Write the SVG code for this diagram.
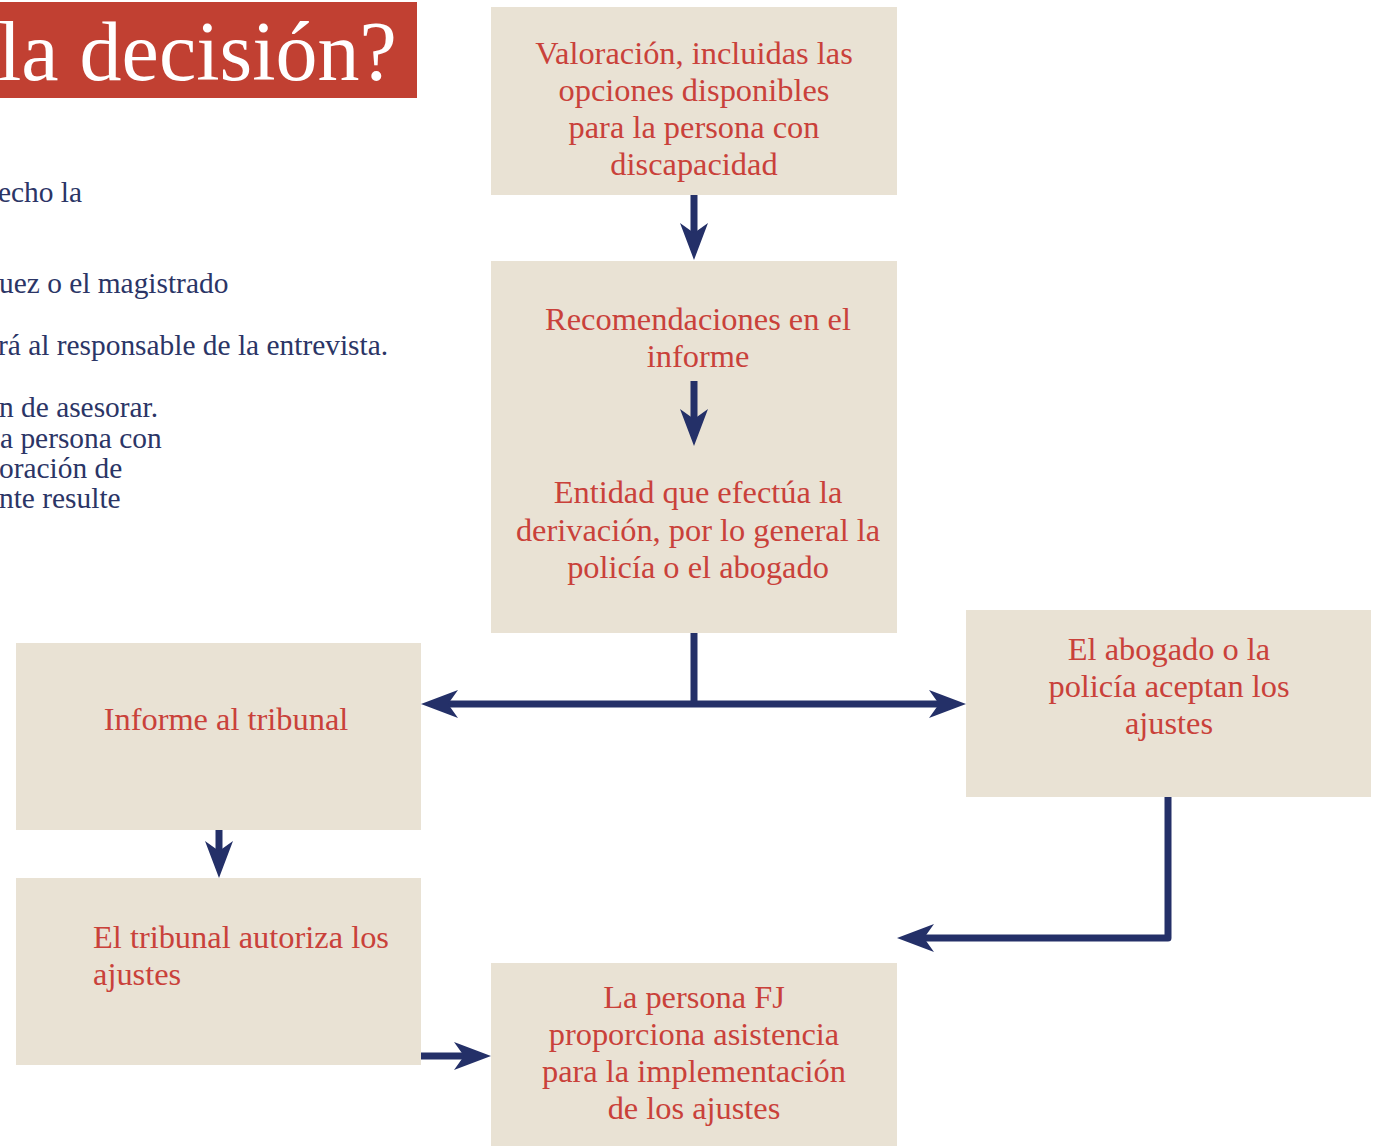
<svg xmlns="http://www.w3.org/2000/svg" width="1377" height="1146" viewBox="0 0 1377 1146">
<style>
.box{fill:#E9E2D4}
.t{font-family:"Liberation Serif","Times New Roman",serif;font-size:32.4px;fill:#C9413A;text-anchor:middle}
.tl{font-family:"Liberation Serif","Times New Roman",serif;font-size:32.4px;fill:#C9413A}
.side{font-family:"Liberation Serif","Times New Roman",serif;font-size:29.4px;fill:#2B3566}
.con{fill:none;stroke:#243068;stroke-width:7;stroke-linejoin:round}
</style>
<defs>
<marker id="ah" markerUnits="userSpaceOnUse" viewBox="-12 -16 42 32" markerWidth="42" markerHeight="32" refX="0" refY="0" orient="auto-start-reverse" overflow="visible">
<path d="M27,0 L-10,-14 L0,0 L-10,14 Z" fill="#243068"/>
</marker>
</defs>
<rect width="1377" height="1146" fill="#FFFFFF"/>
<g id="title">
<rect x="0" y="2" width="417" height="96" fill="#C14032"/>
<text x="-2" y="80" font-family="Liberation Serif, Times New Roman, serif" font-size="84" fill="#FFFFFF">la decisión?</text>
</g>
<g id="side-text">
<text class="side" x="-2" y="202">echo la</text>
<text class="side" x="-1" y="293">uez o el magistrado</text>
<text class="side" x="-2" y="355">rá al responsable de la entrevista.</text>
<text class="side" x="-1" y="417">n de asesorar.</text>
<text class="side" x="0" y="448">a persona con</text>
<text class="side" x="-1" y="478">oración de</text>
<text class="side" x="-1" y="508">nte resulte</text>
</g>
<g id="n-valoracion">
<rect class="box" x="491" y="7" width="406" height="188"/>
<text class="t" x="694" y="64">Valoración, incluidas las</text>
<text class="t" x="694" y="101">opciones disponibles</text>
<text class="t" x="694" y="138">para la persona con</text>
<text class="t" x="694" y="175">discapacidad</text>
</g>
<g id="n-recomendaciones">
<rect class="box" x="491" y="261" width="406" height="372"/>
<text class="t" x="698" y="330">Recomendaciones en el</text>
<text class="t" x="698" y="367">informe</text>
<text class="t" x="698" y="503">Entidad que efectúa la</text>
<text class="t" x="698" y="541">derivación, por lo general la</text>
<text class="t" x="698" y="578">policía o el abogado</text>
</g>
<g id="n-informe">
<rect class="box" x="16" y="643" width="405" height="187"/>
<text class="t" x="226" y="730">Informe al tribunal</text>
</g>
<g id="n-abogado">
<rect class="box" x="966" y="610" width="405" height="187"/>
<text class="t" x="1169" y="660">El abogado o la</text>
<text class="t" x="1169" y="697">policía aceptan los</text>
<text class="t" x="1169" y="734">ajustes</text>
</g>
<g id="n-tribunal">
<rect class="box" x="16" y="878" width="405" height="187"/>
<text class="tl" x="93" y="948">El tribunal autoriza los</text>
<text class="tl" x="93" y="985">ajustes</text>
</g>
<g id="n-persona">
<rect class="box" x="491" y="963" width="406" height="183"/>
<text class="t" x="694" y="1008">La persona FJ</text>
<text class="t" x="694" y="1045">proporciona asistencia</text>
<text class="t" x="694" y="1082">para la implementación</text>
<text class="t" x="694" y="1119">de los ajustes</text>
</g>
<g id="connectors">
<path class="con" d="M694,195 V233" marker-end="url(#ah)"/>
<path class="con" d="M694,381 V419" marker-end="url(#ah)"/>
<path class="con" d="M694,633 V704"/>
<path class="con" d="M448,704 H939" marker-start="url(#ah)" marker-end="url(#ah)"/>
<path class="con" d="M219,830 V851" marker-end="url(#ah)"/>
<path class="con" d="M1168,797 V938 H924" marker-end="url(#ah)"/>
<path class="con" d="M421,1056 H464" marker-end="url(#ah)"/>
</g>
</svg>
